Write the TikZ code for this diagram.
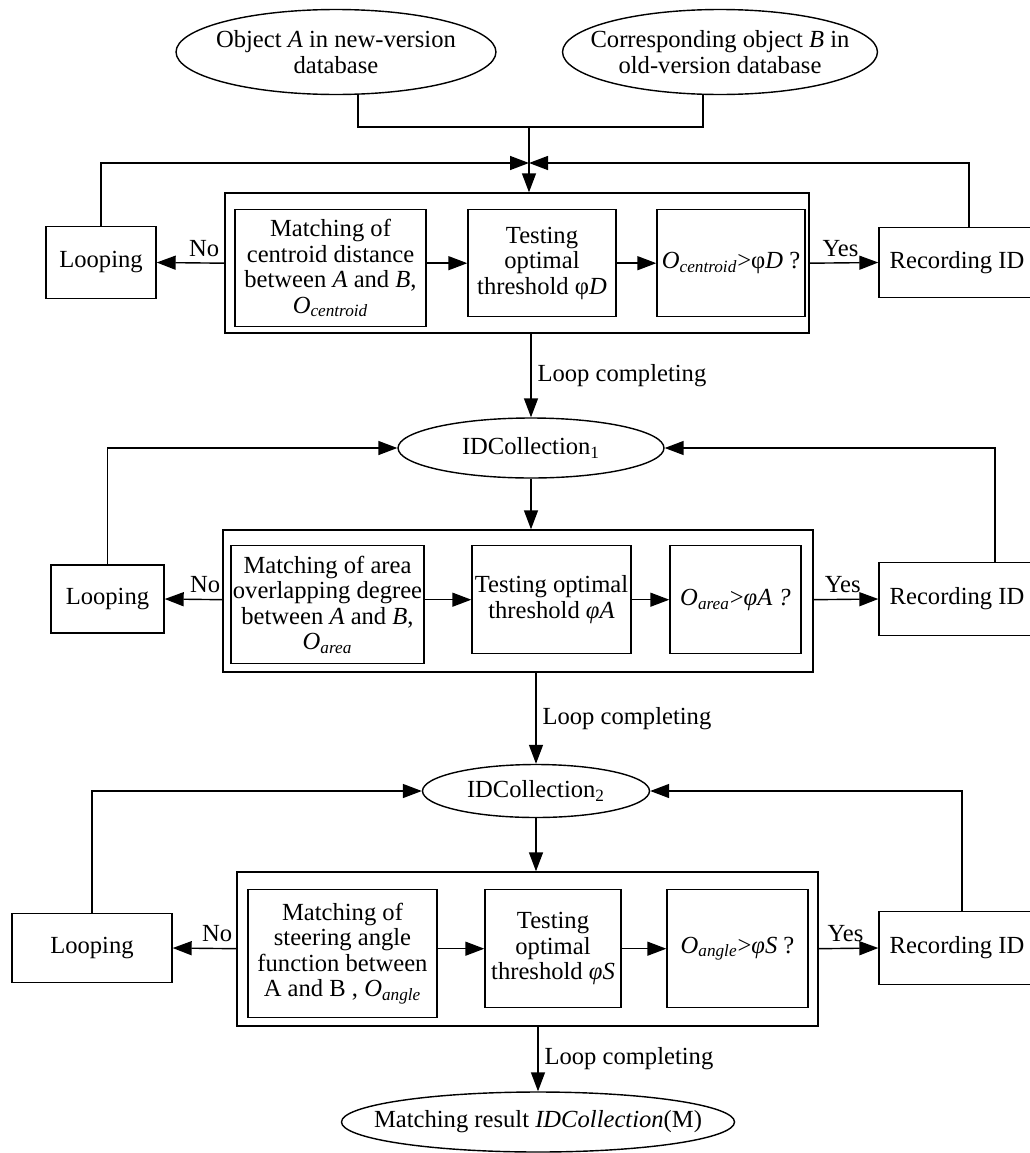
\documentclass[tikz,border=0pt]{standalone}
\usepackage{fontspec}
\setmainfont{Liberation Serif}
\usetikzlibrary{arrows.meta,shapes.geometric}
\newcommand{\Osub}[1]{\textit{O}\textsubscript{\textit{#1}}}

\begin{document}
\begin{tikzpicture}[x=0.02cm,y=-0.02cm,
        font=\fontsize{14}{14.5}\selectfont,
        line width=0.8pt,
        box/.style={draw,align=center,inner sep=1pt},
        oval/.style={draw,ellipse,align=center,inner xsep=-0.5cm,inner ysep=0pt},
        arr/.style={-{Triangle[length=0.38cm,width=0.28cm]}}]
        \useasboundingbox (0,0) rectangle (1030,1153);
    % inputs
        \node[oval,minimum width=6.4cm,minimum height=1.7cm] (objA) at (336,52) {Object \textit{A} in new-version\\database};
        \node[oval,minimum width=6.3cm,minimum height=1.7cm] (objB) at (720,52) {Corresponding object \textit{B} in\\old-version database};
        \coordinate (join) at (529,127);
        \coordinate (merge) at (529,163);
    % stage 1: centroid distance
        \node[box,minimum width=11.68cm,minimum height=2.8cm] (frame1) at (517,263) {};
        \node[box,anchor=north,minimum width=3.82cm,minimum height=2.34cm] (match1) at (330.5,209) {Matching of\\centroid distance\\between \textit{A} and \textit{B},\\\Osub{centroid}};
        \node[box,anchor=north,minimum width=2.96cm,minimum height=2.14cm] (test1) at (542,209) {Testing\\optimal\\threshold φ\textit{D}};
        \node[box,anchor=north,minimum width=2.96cm,minimum height=2.14cm] (cond1) at (731,209) {\Osub{centroid}>φ\textit{D} ?};
        \node[box,minimum width=2.2cm,minimum height=1.44cm] (loop1) at (101,262.5) {Looping};
        \node[box,minimum width=3.12cm,minimum height=1.4cm] (rec1) at (957,262.5) {Recording ID};
    % stage 2: area overlapping
        \node[oval,minimum width=5.32cm,minimum height=1.2cm] (coll1) at (531,448) {IDCollection\textsubscript{1}};
        \node[box,minimum width=11.8cm,minimum height=2.84cm] (frame2) at (518,601) {};
        \node[box,anchor=north,minimum width=3.86cm,minimum height=2.36cm] (match2) at (327.5,545) {Matching of area\\overlapping degree\\between \textit{A} and \textit{B},\\\Osub{area}};
        \node[box,anchor=north,minimum width=3.18cm,minimum height=2.16cm] (test2) at (551.5,545) {Testing optimal\\threshold \textit{φA}};
        \node[box,anchor=north,minimum width=2.62cm,minimum height=2.16cm] (cond2) at (735.5,545) {\Osub{area}>\textit{φA ?}};
        \node[box,minimum width=2.26cm,minimum height=1.36cm] (loop2) at (107.5,599) {Looping};
        \node[box,minimum width=3.12cm,minimum height=1.46cm] (rec2) at (957,599) {Recording ID};
    % stage 3: steering angle
        \node[oval,minimum width=4.54cm,minimum height=1.06cm] (coll2) at (536,791) {IDCollection\textsubscript{2}};
        \node[box,minimum width=11.62cm,minimum height=3.08cm] (frame3) at (527.5,949) {};
        \node[box,anchor=north,minimum width=3.78cm,minimum height=2.56cm] (match3) at (342.5,889) {Matching of\\steering angle\\function between\\A and B , \Osub{angle}};
        \node[box,anchor=north,minimum width=2.72cm,minimum height=2.36cm] (test3) at (553,889) {Testing\\optimal\\threshold \textit{φS}};
        \node[box,anchor=north,minimum width=2.82cm,minimum height=2.36cm] (cond3) at (737.5,889) {\Osub{angle}>\textit{φS} ?};
        \node[box,minimum width=3.2cm,minimum height=1.38cm] (loop3) at (92,948) {Looping};
        \node[box,minimum width=3.12cm,minimum height=1.46cm] (rec3) at (957,948) {Recording ID};
    % output
        \node[oval,minimum width=7.68cm,minimum height=1.2cm] (result) at (538,1122) {Matching result \textit{IDCollection}(M)};
    % flow
        \draw ([xshift=.44cm]objA.south) |- (join) -| ([xshift=-.34cm]objB.south);
        \draw[arr] (join) -- (join |- frame1.north);
        \draw[arr] (loop1.north) |- (merge);
        \draw[arr] ([xshift=.24cm]rec1.north) |- (merge);
        \draw[arr] (loop2.north) |- (coll1.west);
        \draw[arr] ([xshift=.76cm]rec2.north) |- (coll1.east);
        \draw[arr] (loop3.north) |- (coll2.west);
        \draw[arr] ([xshift=.1cm]rec3.north) |- (coll2.east);
        \draw[arr] (coll1.south) -- (coll1.south |- frame2.north);
        \draw[arr] (coll2.south) -- (coll2.south |- frame3.north);
        \foreach \a/\b in {frame1/coll1,frame2/coll2,frame3/result}{
            \draw[arr] (\a.south -| \b) -- node[right]{Loop completing} (\b.north);
        }
        \foreach \a/\b in {match1/test1,test1/cond1,match2/test2,test2/cond2,match3/test3,test3/cond3}{
            \draw[arr] (\a.east |- \b) -- (\b.west);
        }
        \foreach \s in {1,2,3}{
            \draw[arr] (frame\s.west |- test\s) -- node[above,pos=.3]{No} (loop\s.east);
            \draw[arr] (frame\s.east |- test\s) -- node[above,pos=.45]{Yes} (rec\s.west);
        }
\end{tikzpicture}
\end{document}
